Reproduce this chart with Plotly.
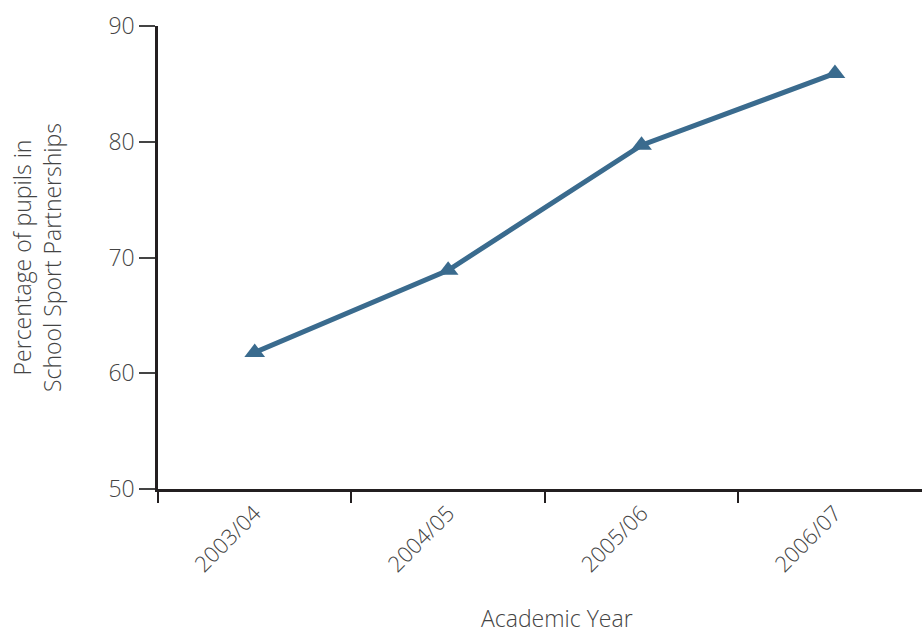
import plotly.graph_objects as go

years = ["2003/04", "2004/05", "2005/06", "2006/07"]
percent = [61.8, 68.9, 79.7, 85.9]
y_ticks = [50, 60, 70, 80, 90]

fig = go.Figure()
fig.add_trace(go.Scatter(
    x=years, y=percent, mode="lines+markers",
    line=dict(color="#3a6b8e", width=5),
    marker=dict(symbol="triangle-up", size=18, color="#3a6b8e"),
    showlegend=False,
))

FAM = "Open Sans"
fig.update_layout(
    width=922, height=633,
    margin=dict(l=158, r=0, t=26, b=144),
    plot_bgcolor="white", paper_bgcolor="white",
    font=dict(family=FAM, color="#444444"),
    xaxis=dict(
        type="category", range=[-0.5, 3.45],
        showline=True, linecolor="#231f20", linewidth=2.5,
        ticks="outside", tickson="boundaries", ticklen=11, tickcolor="#231f20", tickwidth=1.5,
        tickangle=-45, tickfont=dict(size=22, family=FAM, color="#444", weight=300),
        showgrid=False, zeroline=False,
    ),
    yaxis=dict(
        range=[50, 90], tickvals=y_ticks,
        showline=True, linecolor="#231f20", linewidth=2.5,
        ticks="outside", ticklen=16, tickcolor="#444", tickwidth=1.5,
        tickfont=dict(size=23, family=FAM, color="#444", weight=300),
        showgrid=False, zeroline=False,
        title=dict(text="Percentage of pupils in<br>School Sport Partnerships",
                   font=dict(size=23, family=FAM, color="#444", weight=300), standoff=41),
    ),
    annotations=[dict(
        text="Academic Year", xref="paper", yref="paper", x=0.522, y=-0.278,
        xanchor="center", yanchor="middle", showarrow=False,
        font=dict(size=23, family=FAM, color="#444", weight=300),
    )],
)
fig.write_html("out.html", post_script="document.body.style.margin='0';",
               config={"displayModeBar": False})
